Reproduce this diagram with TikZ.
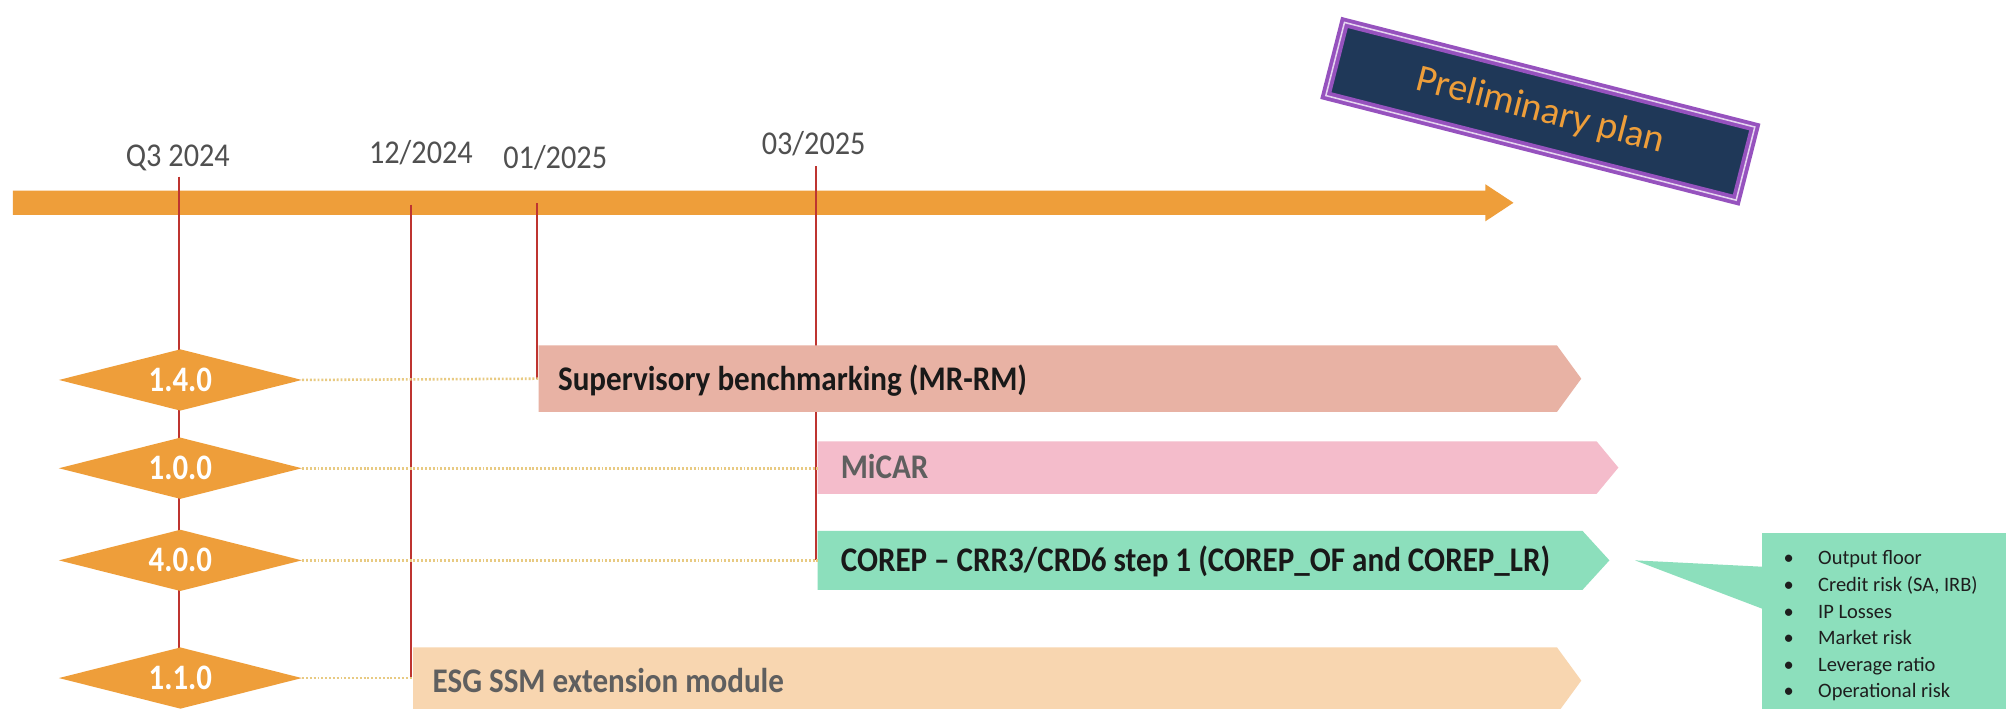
\documentclass[tikz,border=0pt]{standalone}
\usepackage{fontspec}
\setmainfont{Carlito}
\newfontfamily\datefont[FakeStretch=0.91]{Carlito}
\newfontfamily\barfont[FakeStretch=0.9]{Carlito}
\newfontfamily\msfont[FakeStretch=0.86]{Carlito}
\usetikzlibrary{shapes.geometric}
\definecolor{tlorange}{RGB}{238,158,58}
\definecolor{tickred}{RGB}{190,52,48}
\definecolor{dotyellow}{RGB}{232,202,130}
\definecolor{salmon}{RGB}{232,178,164}
\definecolor{pinkbar}{RGB}{244,188,203}
\definecolor{mint}{RGB}{140,223,188}
\definecolor{peach}{RGB}{248,214,176}
\definecolor{navy}{RGB}{31,56,88}
\definecolor{planpurple}{RGB}{150,82,190}
\definecolor{dategray}{RGB}{80,80,80}
\definecolor{midgray}{RGB}{95,95,95}
\definecolor{bultext}{RGB}{30,30,30}
\begin{document}
\begin{tikzpicture}[x=1pt,y=-1pt,
  datelbl/.style={font=\datefont\fontsize{26}{30}\selectfont, text=dategray, anchor=base, inner sep=0},
  tickline/.style={draw=tickred, line width=1.4pt},
  milestone/.style={diamond, aspect=4, fill=tlorange, minimum width=190pt, minimum height=48pt, inner sep=0, text=white, font=\msfont\bfseries\fontsize{28}{32}\selectfont},
  link/.style={draw=dotyellow, line width=2pt, dash pattern=on 1.5pt off 1.5pt},
  barlbl/.style={anchor=base west, inner sep=0, font=\barfont\bfseries\fontsize{27}{31}\selectfont},
  bul/.style={anchor=base west, inner sep=0, font=\fontsize{16}{20}\selectfont, text=bultext}]
\useasboundingbox (0,0) rectangle (1568,554);
\fill[white] (0,0) rectangle (1568,554);

% timeline arrow
\fill[tlorange] (10,149) -- (1161,149) -- (1161,144) -- (1183,158.5) -- (1161,173) -- (1161,168) -- (10,168) -- cycle;

% date labels
\node[datelbl] (lq3) at (139,130.5) {Q3 2024};
\node[datelbl] (l12) at (329,128) {12/2024};
\node[datelbl] (l01) at (434,132) {01/2025};
\node[datelbl] (l03) at (636,121) {03/2025};

% named coordinates
\coordinate (tq3) at (140,138);
\coordinate (t12) at (321,160);
\coordinate (t01) at (420,159);
\coordinate (t03) at (638,130);
\coordinate (b1) at (421,296);
\coordinate (b2) at (639,366);
\coordinate (b3) at (639,438);
\coordinate (b4) at (323,530);

% ticks
\draw[tickline] (tq3) -- (140,530);
\draw[tickline] (t12) -- (t12 |- b4);
\draw[tickline] (t01) -- (t01 |- b1);
\draw[tickline] (t03) -- (t03 |- b3);

% bars
\fill[salmon] (421,270) -- (1217,270) -- (1236,296) -- (1217,322) -- (421,322) -- cycle;
\fill[pinkbar] (639,345) -- (1248,345) -- (1265,365.5) -- (1248,386) -- (639,386) -- cycle;
\fill[mint] (639,415) -- (1237,415) -- (1258,438) -- (1237,461) -- (639,461) -- cycle;
\fill[peach] (323,506) -- (1217,506) -- (1236,532) -- (1217,558) -- (323,558) -- cycle;

\node[barlbl, text=black!90] (s1) at (436,305) {Supervisory benchmarking (MR-RM)};
\node[barlbl, text=midgray] (s2) at (657,374) {MiCAR};
\node[barlbl, text=black!90] (s3) at (657,447) {COREP – CRR3/CRD6 step 1 (COREP\_OF and COREP\_LR)};
\node[barlbl, text=midgray] (s4) at (338,541) {ESG SSM extension module};

% milestones
\node[milestone] (d1) at (141,297) {1.4.0};
\node[milestone] (d2) at (141,366) {1.0.0};
\node[milestone] (d3) at (141,438) {4.0.0};
\node[milestone] (d4) at (141,530) {1.1.0};

\draw[link] (d1.east) -- (b1);
\draw[link] (d2.east) -- (b2);
\draw[link] (d3.east) -- (b3);
\draw[link] (d4.east) -- (b4);

% callout
\fill[mint] (1278,438) -- (1378,443) -- (1378,476) -- cycle;
\fill[mint] (1377,417) rectangle (1568,554);
\foreach \t [count=\i] in {Output floor, {Credit risk (SA, IRB)}, IP Losses, Market risk, Leverage ratio, Operational risk}
  \node[bul] (li\i) at (1394,{441.5+20.8*(\i-1)}) {\makebox[27pt][l]{•}\t};

% preliminary plan
\node[rotate=-14.3, fill=navy, draw=planpurple, line width=3pt, double=white!75!planpurple, double distance=1.2pt,
      minimum width=331pt, minimum height=59pt, text=tlorange, font=\fontsize{30}{36}\selectfont] (plan) at (1204,87) {Preliminary plan};
\end{tikzpicture}
\end{document}
